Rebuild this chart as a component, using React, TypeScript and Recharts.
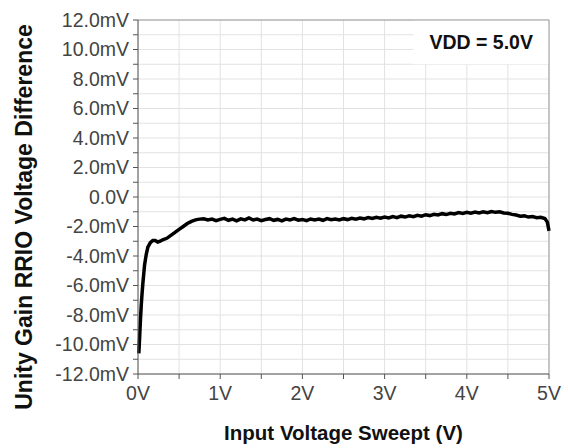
import React from 'react';
import { LineChart, Line, XAxis, YAxis, CartesianGrid, ReferenceLine, ReferenceArea } from 'recharts';

const sweepV = [
  0.01, 0.02, 0.03, 0.04, 0.05, 0.06, 0.08, 0.10, 0.12, 0.15, 0.18, 0.21, 0.24, 0.27, 0.30,
  0.35, 0.40, 0.45, 0.50, 0.55, 0.60, 0.65, 0.70, 0.75,
  0.80, 0.85, 0.90, 0.95, 1.00, 1.05, 1.10, 1.15, 1.20, 1.25, 1.30, 1.35, 1.40, 1.45, 1.50,
  1.55, 1.60, 1.65, 1.70, 1.75, 1.80, 1.85, 1.90, 1.95, 2.00, 2.05, 2.10, 2.15, 2.20, 2.25,
  2.30, 2.35, 2.40, 2.45, 2.50, 2.55, 2.60, 2.65, 2.70, 2.75, 2.80, 2.85, 2.90, 2.95, 3.00,
  3.05, 3.10, 3.15, 3.20, 3.25, 3.30, 3.35, 3.40, 3.45, 3.50, 3.55, 3.60, 3.65, 3.70, 3.75,
  3.80, 3.85, 3.90, 3.95, 4.00, 4.05, 4.10, 4.15, 4.20, 4.25, 4.30, 4.35, 4.40, 4.45, 4.50,
  4.55, 4.60, 4.65, 4.70, 4.75, 4.80, 4.85, 4.90, 4.95, 4.98, 5.00,
];

const diffMv = [
  -10.6, -9.5, -8.3, -7.3, -6.5, -5.8, -4.6, -3.9, -3.4, -3.1, -2.95, -2.95, -3.05, -3.0, -2.9,
  -2.8, -2.6, -2.4, -2.2, -2.0, -1.8, -1.65, -1.55, -1.5,
  -1.48, -1.55, -1.50, -1.60, -1.52, -1.45, -1.58, -1.50, -1.62, -1.48, -1.55, -1.42, -1.56, -1.50, -1.60,
  -1.53, -1.47, -1.58, -1.52, -1.62, -1.50, -1.55, -1.46, -1.57, -1.52, -1.60, -1.49, -1.55, -1.50, -1.58,
  -1.46, -1.54, -1.50, -1.56, -1.47, -1.53, -1.44, -1.50, -1.42, -1.48, -1.40, -1.46, -1.38, -1.44, -1.36,
  -1.42, -1.33, -1.40, -1.30, -1.36, -1.27, -1.33, -1.24, -1.30, -1.20, -1.26, -1.17, -1.22, -1.13, -1.19,
  -1.10, -1.15, -1.06, -1.12, -1.04, -1.10, -1.02, -1.08, -1.00, -1.06, -0.98, -1.04, -1.00, -1.08, -1.10,
  -1.18, -1.22, -1.30, -1.28, -1.36, -1.33, -1.40, -1.38, -1.46, -1.70, -2.30,
];

const xTicks = [0, 0.5, 1, 1.5, 2, 2.5, 3, 3.5, 4, 4.5, 5];
const yTicks = [-12, -11, -10, -9, -8, -7, -6, -5, -4, -3, -2, -1, 0, 1, 2, 3, 4, 5, 6, 7, 8, 9, 10, 11, 12];

const data = sweepV.map((v, i) => ({ v, d: diffMv[i] }));

const font = 'Arial, "Liberation Sans", sans-serif';

const fmtX = (v: number) => (Number.isInteger(v) ? `${v}V` : '');
const fmtY = (v: number) => {
  if (v % 2 !== 0) return '';
  if (v === 0) return '0.0V';
  return `${v.toFixed(1)}mV`;
};

export default function App() {
  return (
    <div style={{ position: 'absolute', left: 0, top: 0, background: '#fff', fontFamily: font }}>
      <LineChart width={568} height={448} data={data} margin={{ top: 20, right: 19, bottom: 0, left: 0 }}>
        <CartesianGrid stroke="#e2e2e2" strokeWidth={1} />
        <ReferenceArea x1={3.35} x2={5} y1={9.0} y2={12} fill="#fff" fillOpacity={1} stroke="none"
          label={{ value: 'VDD = 5.0V', position: 'center', fill: '#111', fontSize: 19.5, fontWeight: 'bold', fontFamily: font }} />
        <XAxis
          type="number"
          dataKey="v"
          domain={[0, 5]}
          ticks={xTicks}
          tickFormatter={fmtX}
          interval={0}
          height={74}
          tickSize={5}
          tickMargin={7}
          stroke="#555"
          tick={{ fill: '#444', fontSize: 19.5, fontFamily: font }}
          label={{ value: 'Input Voltage Sweept (V)', position: 'insideBottom', offset: 8, fill: '#111', fontSize: 20.5, fontWeight: 'bold', fontFamily: font }}
        />
        <YAxis
          type="number"
          domain={[-12, 12]}
          ticks={yTicks}
          tickFormatter={fmtY}
          interval={0}
          width={138}
          tickSize={5}
          tickMargin={4}
          stroke="#555"
          tick={{ fill: '#444', fontSize: 19.5, fontFamily: font }}
          label={{ value: 'Unity Gain RRIO Voltage Difference', angle: -90, position: 'insideLeft', offset: 24, dy: 20, fill: '#111', fontSize: 23, fontWeight: 'bold', fontFamily: font, style: { textAnchor: 'middle' } }}
        />
        <ReferenceLine y={12} stroke="#999" />
        <ReferenceLine x={5} stroke="#999" />
        <Line type="linear" dataKey="d" stroke="#000" strokeWidth={3.5} dot={false} isAnimationActive={false} />
      </LineChart>
    </div>
  );
}
